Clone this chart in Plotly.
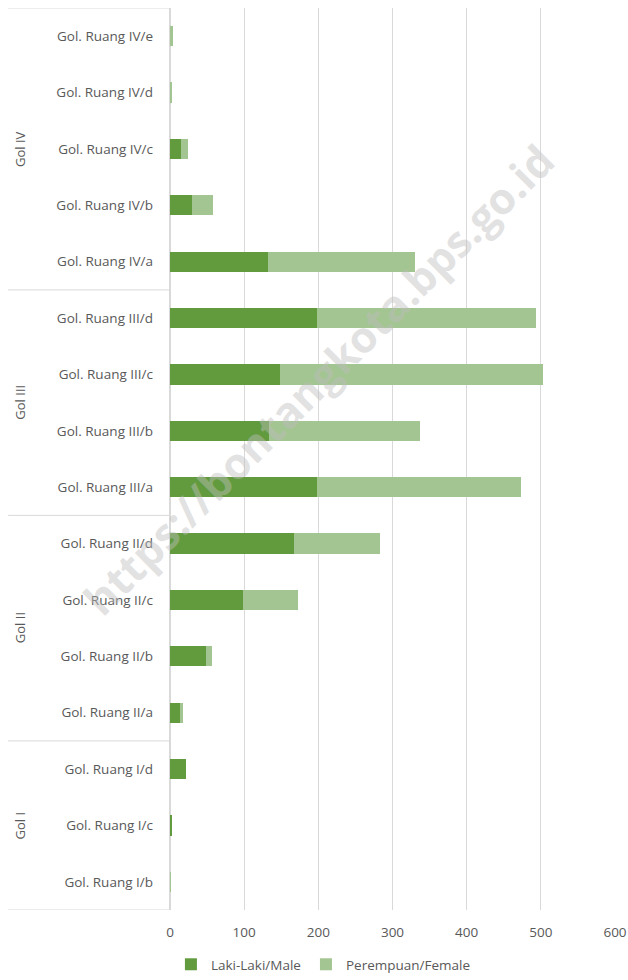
import plotly.graph_objects as go

categories = ["Gol. Ruang I/b", "Gol. Ruang I/c", "Gol. Ruang I/d",
              "Gol. Ruang II/a", "Gol. Ruang II/b", "Gol. Ruang II/c", "Gol. Ruang II/d",
              "Gol. Ruang III/a", "Gol. Ruang III/b", "Gol. Ruang III/c", "Gol. Ruang III/d",
              "Gol. Ruang IV/a", "Gol. Ruang IV/b", "Gol. Ruang IV/c", "Gol. Ruang IV/d", "Gol. Ruang IV/e"]
male = [0, 3, 22, 14, 48, 98, 167, 198, 134, 148, 198, 132, 30, 15, 0, 0]
female = [1, 0, 0, 3, 9, 74, 116, 275, 203, 355, 296, 199, 28, 9, 2, 4]
groups = ["Gol I", "Gol II", "Gol III", "Gol IV"]
group_sizes = [3, 4, 4, 5]
x_ticks = [0, 100, 200, 300, 400, 500, 600]

male_color = "#629b3e"
female_color = "#a3c591"
text_color = "#595959"
line_color = "#d9d9d9"
font = "Open Sans"

fig = go.Figure()
fig.add_trace(go.Bar(y=categories, x=male, orientation="h", name="Laki-Laki/Male",
                     marker=dict(color=male_color, line=dict(width=0))))
fig.add_trace(go.Bar(y=categories, x=female, orientation="h", name="Perempuan/Female",
                     marker=dict(color=female_color, line=dict(width=0))))

shapes = []
annotations = []
start = 0
bounds = [-0.5]
for g, n in zip(groups, group_sizes):
    mid = start + (n - 1) / 2
    annotations.append(dict(x=-0.337, xref="paper", y=mid, yref="y", text=g, showarrow=False,
                            xanchor="center", yanchor="middle",
                            textangle=-90, font=dict(family=font, size=13, color=text_color)))
    start += n
    bounds.append(start - 0.5)
for b in bounds:
    shapes.append(dict(type="line", xref="paper", yref="y", x0=-0.364, x1=0, y0=b, y1=b,
                       line=dict(color=line_color, width=1)))

annotations.append(dict(x=0.333, y=0.588, xref="paper", yref="paper", text="<b>https://bontangkota.bps.go.id</b>",
                        showarrow=False, textangle=-45, xanchor="center", yanchor="middle",
                        font=dict(family="Open Sans", size=43, color="rgba(190,190,190,0.45)")))

fig.update_layout(
    barmode="stack",
    bargap=0.64,
    width=628, height=980,
    margin=dict(l=170, r=13, t=8, b=70),
    paper_bgcolor="white", plot_bgcolor="white",
    font=dict(family=font, size=13.5, color=text_color),
    showlegend=True,
    legend=dict(orientation="h", xref="container", yref="container", x=0.515, y=-0.006,
                xanchor="center", yanchor="bottom", font=dict(family=font, size=13.5, color=text_color),
                traceorder="normal"),
    xaxis=dict(range=[0, 600], tickvals=x_ticks, showgrid=True, gridcolor=line_color, gridwidth=1,
               zeroline=True, zerolinecolor=line_color, showline=False, ticks="", automargin=False,
               ticklabelstandoff=12,
               tickfont=dict(family=font, size=13.5, color=text_color)),
    yaxis=dict(type="category", categoryorder="array", categoryarray=categories,
               range=[-0.5, len(categories) - 0.5], showgrid=False, zeroline=False, ticks="",
               automargin=False,
               ticklabelstandoff=16, tickfont=dict(family=font, size=13.5, color=text_color)),
    shapes=shapes,
    annotations=annotations,
)

fig.write_html("out.html", config={"displayModeBar": False},
               post_script="document.body.style.margin='0';document.body.style.overflow='hidden';")
